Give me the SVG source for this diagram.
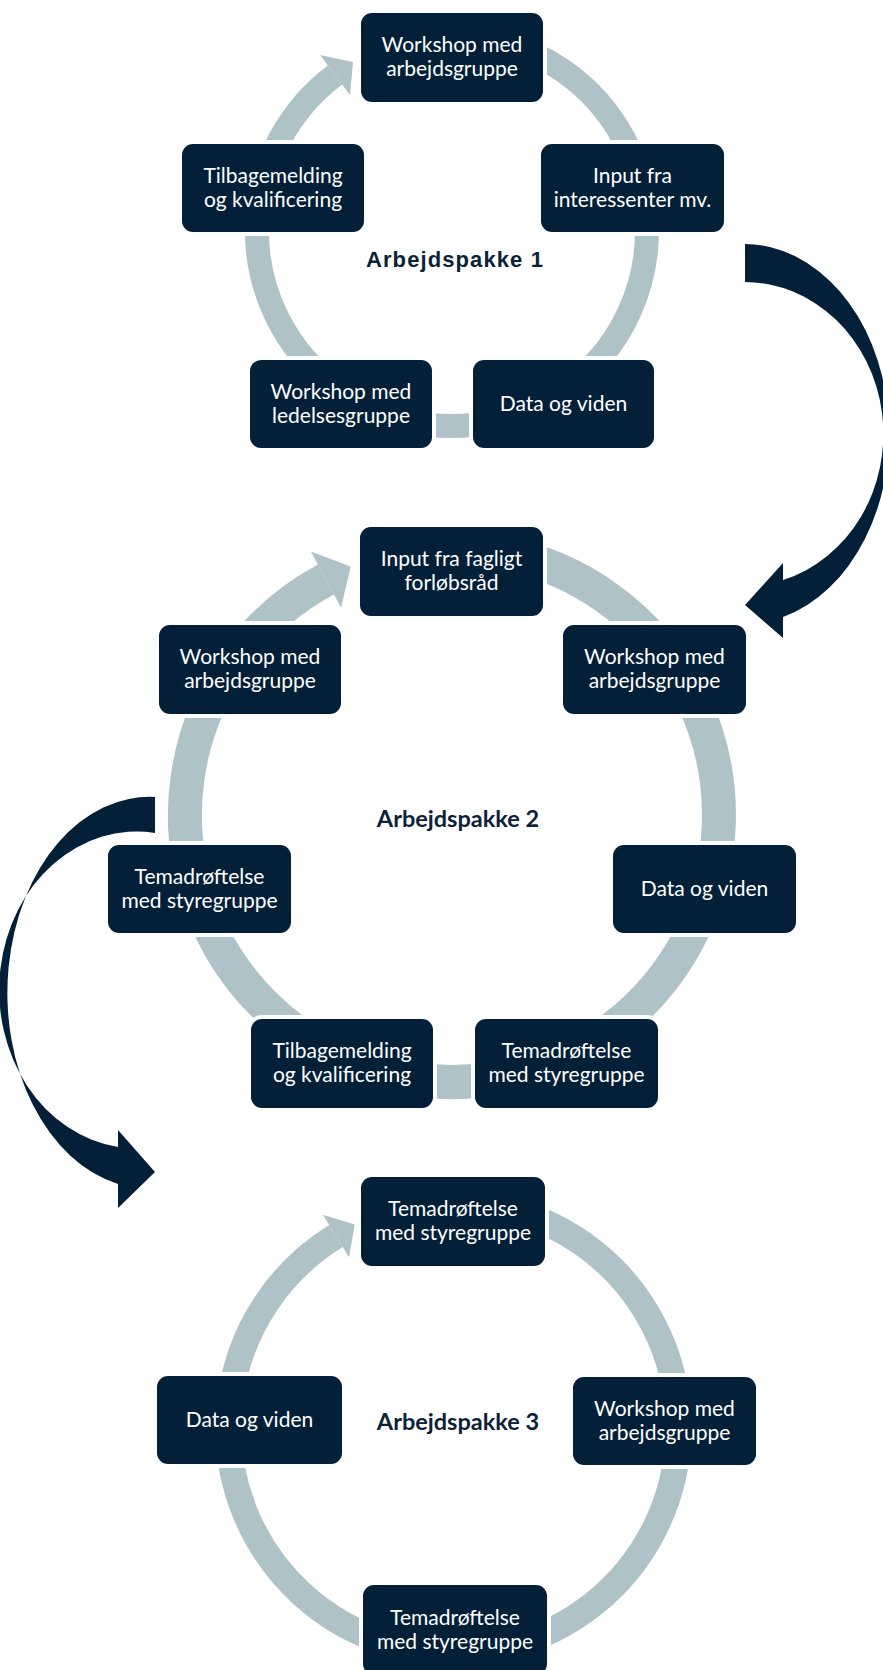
<svg xmlns="http://www.w3.org/2000/svg" width="883" height="1670" viewBox="0 0 883 1670">
<style>
.ring{fill:none;stroke:#AEC2C7;stroke-linecap:butt}
.head{fill:#AEC2C7}
.flow{fill:#032038}
.box{fill:#032038;stroke:#FFFFFF;stroke-width:8;paint-order:stroke}
.lbl{fill:#FFFFFF;font-family:Lato,"Noto Sans","Open Sans",sans-serif;font-size:21px;text-anchor:middle}
.t1{fill:#0B2238;font-family:"Liberation Sans",Arial,sans-serif;font-weight:bold;font-size:22px;letter-spacing:1.1px;text-anchor:middle}
.t2{fill:#0B2238;font-family:Lato,"Noto Sans",sans-serif;font-weight:bold;font-size:23.5px;text-anchor:middle}
</style>
<rect width="883" height="1670" fill="#FFFFFF"/>
<g id="connectors">
  <path class="ring" stroke-width="24" d="M485.9,39 A195,195 0 1 1 335,75"/>
  <polygon class="head" points="320,55 353,62 350,95"/>
  <path class="ring" stroke-width="34" d="M498.4,552.1 A267,267 0 1 1 326,579.6"/>
  <polygon class="head" points="310.9,551.4 350.7,566.4 341.1,607.8"/>
  <path class="ring" stroke-width="26" d="M493,1206.4 A225,225 0 1 1 336,1236"/>
  <polygon class="head" points="322.9,1214.7 354.7,1224.5 349.1,1257.3"/>
  <path id="flow-1-2" class="flow" d="M745,244 A145,190 0 0 1 783,617 L783,638 L745,605 L783,563 L783,580 A139,152 0 0 0 745,282 Z"/>
  <path id="flow-2-3" class="flow" d="M155,797 A142,196 0 0 0 118,1184 L118,1208 L155,1172 L118,1130 L118,1147 A137,158 0 0 1 155,833 Z"/>
</g>
<g id="title1"><text class="t1" x="455" y="267">Arbejdspakke 1</text></g>
<g id="title2"><text class="t2" x="458" y="827">Arbejdspakke 2</text></g>
<g id="title3"><text class="t2" x="458" y="1430">Arbejdspakke 3</text></g>

<g id="n1a"><rect class="box" x="361" y="13" width="182" height="89" rx="11"/><text class="lbl" x="452" y="52">Workshop med<tspan x="452" dy="24">arbejdsgruppe</tspan></text></g>
<g id="n1b"><rect class="box" x="541" y="144" width="183" height="88" rx="11"/><text class="lbl" x="632.5" y="182.5">Input fra<tspan x="632.5" dy="24">interessenter mv.</tspan></text></g>
<g id="n1c"><rect class="box" x="473" y="360" width="181" height="88" rx="11"/><text class="lbl" x="563.5" y="411">Data og viden</text></g>
<g id="n1d"><rect class="box" x="250" y="360" width="182" height="88" rx="11"/><text class="lbl" x="341" y="398.5">Workshop med<tspan x="341" dy="24">ledelsesgruppe</tspan></text></g>
<g id="n1e"><rect class="box" x="182" y="144" width="182" height="88" rx="11"/><text class="lbl" x="273" y="182.5">Tilbagemelding<tspan x="273" dy="24">og kvalificering</tspan></text></g>

<g id="n2a"><rect class="box" x="360" y="527" width="183" height="89" rx="11"/><text class="lbl" x="451.5" y="566">Input fra fagligt<tspan x="451.5" dy="24">forløbsråd</tspan></text></g>
<g id="n2b"><rect class="box" x="563" y="625" width="183" height="89" rx="11"/><text class="lbl" x="654.5" y="664">Workshop med<tspan x="654.5" dy="24">arbejdsgruppe</tspan></text></g>
<g id="n2c"><rect class="box" x="613" y="845" width="183" height="88" rx="11"/><text class="lbl" x="704.5" y="896">Data og viden</text></g>
<g id="n2d"><rect class="box" x="475" y="1019" width="183" height="89" rx="11"/><text class="lbl" x="566.5" y="1058">Temadrøftelse<tspan x="566.5" dy="24">med styregruppe</tspan></text></g>
<g id="n2e"><rect class="box" x="251" y="1019" width="182" height="89" rx="11"/><text class="lbl" x="342" y="1058">Tilbagemelding<tspan x="342" dy="24">og kvalificering</tspan></text></g>
<g id="n2f"><rect class="box" x="108" y="845" width="183" height="88" rx="11"/><text class="lbl" x="199.5" y="883.5">Temadrøftelse<tspan x="199.5" dy="24">med styregruppe</tspan></text></g>
<g id="n2g"><rect class="box" x="159" y="625" width="182" height="89" rx="11"/><text class="lbl" x="250" y="664">Workshop med<tspan x="250" dy="24">arbejdsgruppe</tspan></text></g>

<g id="n3a"><rect class="box" x="361" y="1177" width="184" height="89" rx="11"/><text class="lbl" x="453" y="1216">Temadrøftelse<tspan x="453" dy="24">med styregruppe</tspan></text></g>
<g id="n3b"><rect class="box" x="573" y="1377" width="183" height="88" rx="11"/><text class="lbl" x="664.5" y="1415.5">Workshop med<tspan x="664.5" dy="24">arbejdsgruppe</tspan></text></g>
<g id="n3c"><rect class="box" x="363" y="1585" width="184" height="90" rx="11"/><text class="lbl" x="455" y="1625">Temadrøftelse<tspan x="455" dy="24">med styregruppe</tspan></text></g>
<g id="n3d"><rect class="box" x="157" y="1376" width="185" height="88" rx="11"/><text class="lbl" x="249.5" y="1427">Data og viden</text></g>
</svg>
